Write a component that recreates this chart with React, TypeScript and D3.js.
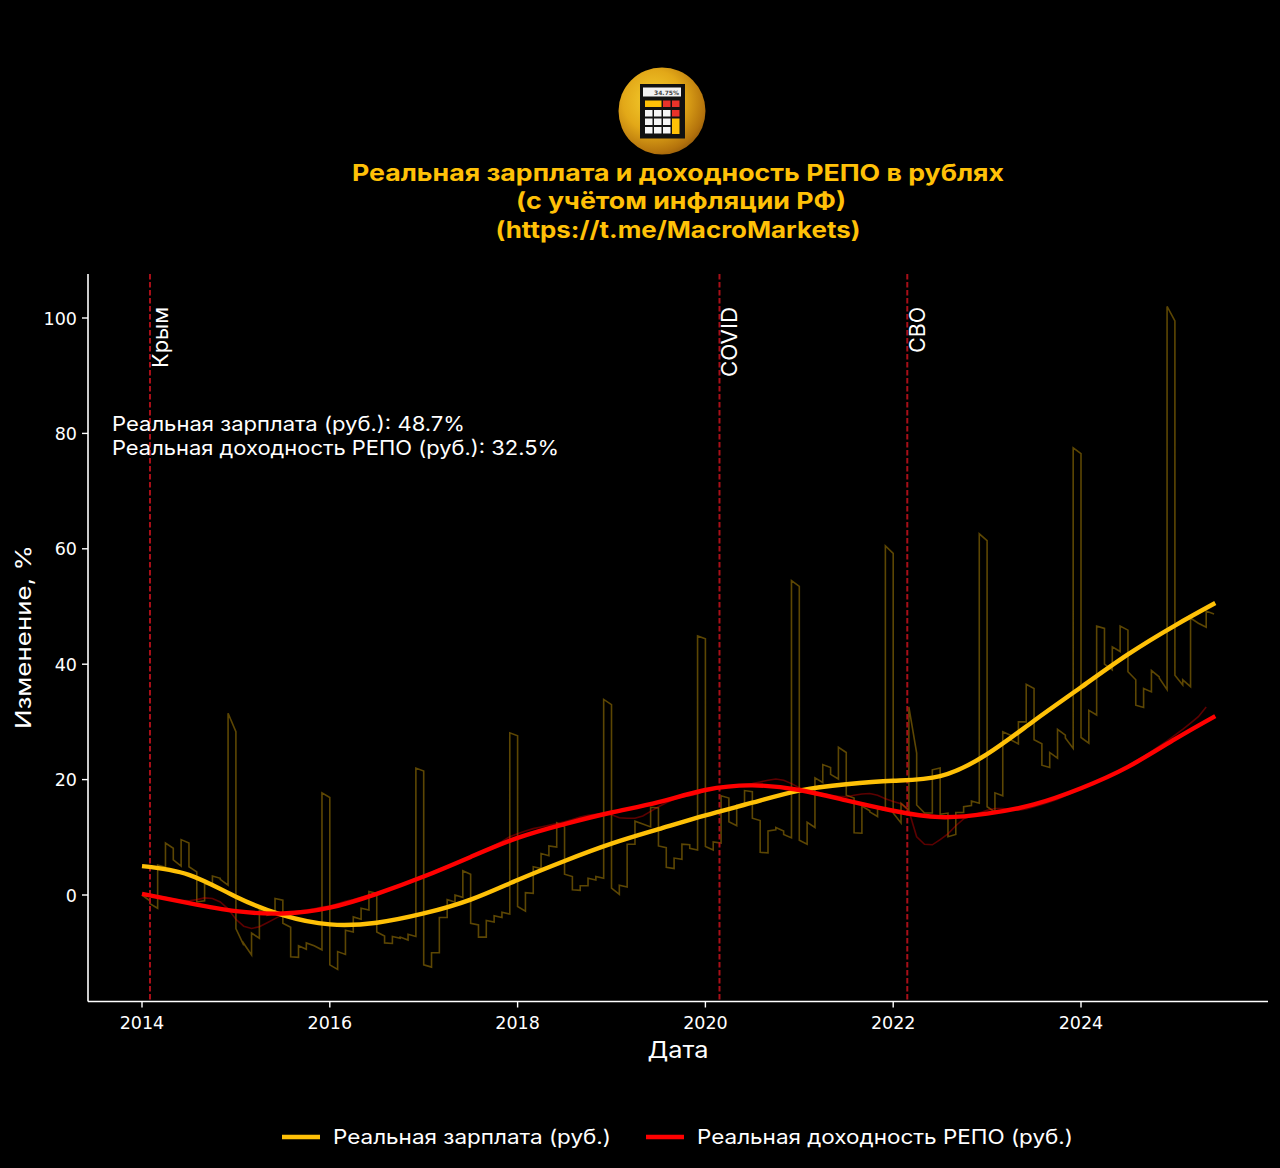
import React from "react";
import * as d3 from "d3";

const wageStart = [0,-1.5,5.2,9.0,6.1,9.6,4.9,-1.2,1.9,3.3,2.7,31.5,-5.8,-8.4,-6.6,-2.6,-3.5,-0.6,-4.9,-10.7,-8.8,-8.3,-8.8,17.7,-12.1,-9.8,-6.1,-3.8,-2.3,0.6,-6.4,-8.3,-7.2,-7.3,-6.8,22,-12.1,-10,-3.9,-0.8,0,4.2,-4.9,-7.3,-4.4,-3.6,-3.0,28.1,-2.0,0.4,4.9,7.2,8.5,12.5,3.6,0.9,1.6,2.9,3.2,33.9,1.2,1.7,8.8,12.8,12.3,15.2,8.5,4.8,6.4,8.8,8.1,44.9,8.4,9.2,17.2,12.7,15.6,18.1,13.3,7.4,11.1,11.7,10.5,54.5,9.5,12.6,20.3,22.6,20.9,25.6,17.3,10.8,15.4,14.4,15,60.5,14.2,15.9,32.6,15.6,14.2,21.7,14,10.1,14.3,15.3,16.3,62.6,15.3,17.7,28.3,26.9,30,36.5,26.9,22.5,24.7,28.7,27.2,77.5,27.3,32,46.6,40,43,46.6,38.7,32.9,35.8,38.9,37.6,102,38.1,37.3,48,47.1,49.2];
const wageEnd = [-1,-2.3,4.8,8.1,5.0,9.0,4.0,-1.0,1.7,2.9,1.7,28.3,-8.7,-10.4,-7.5,-3.0,-3.2,-0.9,-5.6,-10.8,-9.4,-8.8,-9.5,16.9,-12.9,-10.3,-6.4,-4.2,-2.6,0.3,-7.1,-8.4,-7.5,-7.8,-7.2,21.5,-12.5,-10,-3.9,-1.2,-0.4,3.6,-5.2,-7.3,-4.7,-3.9,-3.3,27.6,-2.8,0.3,4.6,6.8,8.3,11.8,3.2,0.8,1.6,2.6,2.9,33,0.1,1.4,8.8,12.3,11.8,15.1,8.2,4.6,6.2,8.7,7.8,44.4,7.8,9,16.8,12,15.8,17.9,12.9,7.3,11.3,11.1,9.9,53.5,8.8,11.7,19.5,22.1,20.1,24.7,16.8,10.7,14.6,13.6,14.7,59.2,12.5,14.7,24.6,14.2,14.2,22,14.2,10.5,14.3,15.5,15.9,61.4,14.4,17.2,27.7,26.2,30,35.8,26.2,22.1,23.7,27.7,25.4,76.5,26.3,31.2,46.2,39,42.2,45.9,37.3,32.5,35.2,37.8,35.6,99.5,36.4,36.1,47.1,46.4,48.7];
const repoRaw = [0.2,0,-0.2,-0.4,-0.7,-0.9,-1.0,-0.8,-0.5,-0.6,-1.2,-2.4,-4.2,-5.4,-5.8,-5.5,-4.8,-4.1,-3.4,-3.0,-2.8,-2.6,-2.4,-2.1,-1.9,-1.5,-1.1,-0.8,-0.4,0,0.4,0.8,1.3,1.8,2.3,2.9,3.4,3.9,4.5,5.0,5.5,6.0,6.6,7.2,7.9,8.6,9.3,10.1,10.6,11.1,11.5,11.8,12.1,12.4,12.7,13.1,13.5,13.8,14.0,14.2,13.9,13.4,13.3,13.3,13.7,14.5,15.3,16.0,16.6,17.0,17.2,17.5,18.2,18.5,18.7,18.9,19.0,19.2,19.3,19.6,19.9,20.1,19.9,19.3,18.6,18.2,17.9,17.6,17.3,17.1,17.0,17.3,17.5,17.6,17.3,16.7,16.2,15.8,14.6,10.1,8.8,8.7,9.6,10.6,12.0,13.2,13.7,14.2,14.7,15.0,15.0,14.8,14.7,14.9,15.3,15.7,16.1,16.6,17.2,17.8,18.4,19.0,19.6,20.2,20.9,21.6,22.4,23.2,24.0,24.9,25.8,26.7,27.7,28.7,29.8,30.9,32.6];
const trendYears = [2014,2014.5,2015,2015.5,2016,2016.5,2017,2017.5,2018,2018.5,2019,2019.5,2020,2020.5,2021,2021.5,2022,2022.5,2023,2023.5,2024,2024.5,2025,2025.43];
const wageTrend = [5,3.5,-0.3,-3.5,-5.1,-4.8,-3.2,-0.8,2.6,5.9,8.9,11.4,13.8,16.0,18.1,19.2,19.8,20.6,24.4,30.2,36.0,41.7,46.7,50.6];
const repoTrend = [0.2,-1.4,-2.8,-3.2,-2.2,0.2,3.2,6.6,9.9,12.3,14.3,16.1,18.2,19.0,18.2,16.4,14.6,13.5,14.1,15.7,18.5,22.2,27.0,31];
const xTicks = [2014,2016,2018,2020,2022,2024];
const yTicks = [0,20,40,60,80,100];
const events = [{ year: 2014.085, label: "Крым", len: 61 }, { year: 2020.15, label: "COVID", len: 70 }, { year: 2022.15, label: "СВО", len: 46 }];
const wageName = "Реальная зарплата (руб.)";
const repoName = "Реальная доходность РЕПО (руб.)";
const statLines = ["Реальная зарплата (руб.): 48.7%", "Реальная доходность РЕПО (руб.): 32.5%"];
const titleLines = ["Реальная зарплата и доходность РЕПО в рублях", "(с учётом инфляции РФ)", "(https://t.me/MacroMarkets)"];

const YELLOW = "#FFC107";
const RED = "#FF0000";
const UI = "Inter, 'Noto Sans', sans-serif";
const TICK = "'DejaVu Sans', sans-serif";

export default function App() {
  const x = d3.scaleLinear().domain([2014, 2024]).range([142, 1081]);
  const y = d3.scaleLinear().domain([0, 100]).range([895, 318]);
  const top = 274, bottom = 1001.5, left = 88, right = 1268;
  const rawPts: [number, number][] = wageStart.flatMap((v, i): [number, number][] => [
    [2014 + i / 12, v],
    [2014 + (i + 1) / 12, wageEnd[i]],
  ]);
  const line = d3.line<[number, number]>().x((d) => x(d[0])).y((d) => y(d[1]));
  const smooth = d3.line<[number, number]>().x((d) => x(d[0])).y((d) => y(d[1])).curve(d3.curveNatural);
  const repoPts = repoRaw.map((v, i): [number, number] => [2014 + i / 12, v]);
  const wT = trendYears.map((t, i): [number, number] => [t, wageTrend[i]]);
  const rT = trendYears.map((t, i): [number, number] => [t, repoTrend[i]]);

  const keyCols = [645, 654, 663];
  const keyRows = [110, 118.5, 127];
  return (
    <svg width={1280} height={1168} viewBox="0 0 1280 1168" style={{ position: "absolute", left: 0, top: 0, background: "#000" }}>
      <defs>
        <radialGradient id="gold" cx="40%" cy="38%" r="70%">
          <stop offset="0%" stopColor="#f5cf2e" />
          <stop offset="50%" stopColor="#e2a818" />
          <stop offset="85%" stopColor="#b4730c" />
          <stop offset="100%" stopColor="#8f560a" />
        </radialGradient>
      </defs>
      <rect width={1280} height={1168} fill="#000" />

      <g>
        <circle cx={662} cy={111} r={43.5} fill="url(#gold)" />
        <rect x={640} y={84} width={45} height={54.5} fill="#111" />
        <rect x={643} y={87.5} width={38} height={9} fill="#f2f2f2" />
        <text x={679} y={94.5} textAnchor="end" fontFamily={TICK} fontSize={6} fontWeight="bold" fill="#444">34.75%</text>
        <rect x={645} y={100.5} width={16.5} height={6.5} fill={YELLOW} />
        <rect x={663} y={100.5} width={7.5} height={6.5} fill="#e8332a" />
        <rect x={672} y={100.5} width={7.5} height={6.5} fill="#e8332a" />
        <rect x={672} y={110} width={7.5} height={6.5} fill="#e8332a" />
        <rect x={672} y={118.5} width={7.5} height={15.5} fill={YELLOW} />
        {keyRows.flatMap((r) => keyCols.map((c) => (
          <rect key={`${c}-${r}`} x={c} y={r} width={7.5} height={6.5} fill="#f5f5f5" />
        )))}
      </g>

      <g fontFamily={UI} fontWeight={700} fontSize={23} fill={YELLOW} textAnchor="middle">
        <text x={678} y={181} textLength={652} lengthAdjust="spacingAndGlyphs">{titleLines[0]}</text>
        <text x={681} y={209} textLength={330} lengthAdjust="spacingAndGlyphs">{titleLines[1]}</text>
        <text x={678} y={238} textLength={365} lengthAdjust="spacingAndGlyphs">{titleLines[2]}</text>
      </g>

      <path d={line(rawPts) ?? ""} fill="none" stroke={YELLOW} strokeOpacity={0.36} strokeWidth={1.6} />
      <path d={line(repoPts) ?? ""} fill="none" stroke={RED} strokeOpacity={0.36} strokeWidth={1.6} />

      {events.map((e) => (
        <g key={e.label}>
          <line x1={x(e.year)} x2={x(e.year)} y1={top} y2={bottom} stroke="#a80f18" strokeWidth={2} strokeDasharray="5.5 2.5" />
          <text
            transform={`translate(${x(e.year) + 18},307) rotate(-90)`}
            textAnchor="end"
            fontFamily={UI}
            fontSize={21}
            fill="#fff"
            textLength={e.len}
            lengthAdjust="spacingAndGlyphs"
          >
            {e.label}
          </text>
        </g>
      ))}

      <path d={smooth(wT) ?? ""} fill="none" stroke={YELLOW} strokeWidth={4.4} />
      <path d={smooth(rT) ?? ""} fill="none" stroke={RED} strokeWidth={4.4} />

      <line x1={left} x2={left} y1={top} y2={bottom} stroke="#fff" strokeWidth={1.6} />
      <line x1={left} x2={right} y1={bottom} y2={bottom} stroke="#fff" strokeWidth={1.6} />
      {xTicks.map((t) => (
        <g key={t}>
          <line x1={x(t)} x2={x(t)} y1={bottom} y2={bottom + 6} stroke="#fff" strokeWidth={1.4} />
          <text x={x(t)} y={1029} textAnchor="middle" fontFamily={TICK} fontSize={17.5} fill="#fff">{t}</text>
        </g>
      ))}
      {yTicks.map((t) => (
        <g key={t}>
          <line x1={left - 6} x2={left} y1={y(t)} y2={y(t)} stroke="#fff" strokeWidth={1.4} />
          <text x={77} y={y(t) + 6.5} textAnchor="end" fontFamily={TICK} fontSize={17.5} fill="#fff">{t}</text>
        </g>
      ))}

      <text x={678} y={1058} textAnchor="middle" fontFamily={UI} fontSize={23} fill="#fff" textLength={61} lengthAdjust="spacingAndGlyphs">Дата</text>
      <text transform="translate(31,637) rotate(-90)" textAnchor="middle" fontFamily={UI} fontSize={22} fill="#fff" textLength={184} lengthAdjust="spacingAndGlyphs">Изменение, %</text>

      <g fontFamily={UI} fontSize={20} fill="#fff">
        <text x={112} y={431} textLength={353} lengthAdjust="spacingAndGlyphs">{statLines[0]}</text>
        <text x={112} y={455} textLength={447} lengthAdjust="spacingAndGlyphs">{statLines[1]}</text>
      </g>

      <line x1={282} x2={320} y1={1137} y2={1137} stroke={YELLOW} strokeWidth={4.4} />
      <text x={333} y={1144} fontFamily={UI} fontSize={20} fill="#fff" textLength={278} lengthAdjust="spacingAndGlyphs">{wageName}</text>
      <line x1={646} x2={684} y1={1137} y2={1137} stroke={RED} strokeWidth={4.4} />
      <text x={697} y={1144} fontFamily={UI} fontSize={20} fill="#fff" textLength={376} lengthAdjust="spacingAndGlyphs">{repoName}</text>
    </svg>
  );
}
